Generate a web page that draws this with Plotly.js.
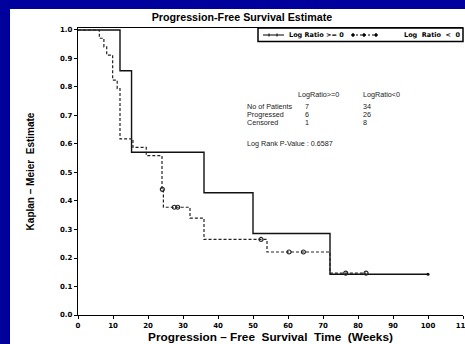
<!DOCTYPE html>
<html><head><meta charset="utf-8">
<script src="https://cdn.plot.ly/plotly-3.0.1.min.js"></script>
<style>
html,body{margin:0;padding:0;background:#00009c;width:465px;height:344px;overflow:hidden;position:relative}
#chart{position:absolute;left:10px;top:9px;width:475px;height:335px;background:#fff}
</style>
</head><body><div id="chart"></div>
<script>
// ---- data ----
const posName = 'Log Ratio >= 0';
const negName = 'Log Ratio < 0';
// Kaplan-Meier step points (time in weeks, survival); censored flag 1 = censored observation
const posTime = [0, 12, 15.3, 36, 50, 72, 100];
const posSurv = [1, 0.857, 0.571, 0.429, 0.286, 0.143, 0.143];
const posCens = [0, 0, 0, 0, 0, 0, 1];
const negTime = [0, 6.1, 7.4, 8.2, 9.9, 11.2, 12, 15.7, 19.5, 24, 24.1, 24.4, 27.5, 28.5, 32, 36, 52.3, 54, 60.3, 64.4, 72, 76.5, 82.3];
const negSurv = [1, 0.971, 0.941, 0.912, 0.824, 0.794, 0.618, 0.588, 0.559, 0.441, 0.441, 0.378, 0.378, 0.378, 0.340, 0.265, 0.265, 0.221, 0.221, 0.221, 0.147, 0.147, 0.147];
const negCens = [0, 0, 0, 0, 0, 0, 0, 0, 0, 0, 1, 0, 1, 1, 0, 0, 1, 0, 1, 1, 0, 1, 1];
// summary table
const groupHeaders = ['LogRatio>=0', 'LogRatio<0'];
const statLabels = ['No of Patients', 'Progressed', 'Censored'];
const posStats = [7, 6, 1];
const negStats = [34, 26, 8];
const pValue = '0.6587';
const xTicks = [0, 10, 20, 30, 40, 50, 60, 70, 80, 90, 100, 110];
const yTicks = [0, 0.1, 0.2, 0.3, 0.4, 0.5, 0.6, 0.7, 0.8, 0.9, 1.0];

// ---- layout helpers (absolute page pixels -> paper coords) ----
const DIVW = 475, DIVH = 335, OX = 10, OY = 9;
const PL = 78, PR = 463, PT = 28, PB = 315;
const px = x => (x - PL) / (PR - PL);
const py = y => (PB - y) / (PB - PT);

const pick = (arr, flags) => arr.filter((v, i) => flags[i]);

const traces = [
  {x: posTime, y: posSurv, mode: 'lines', line: {shape: 'hv', color: '#111', width: 1.4}, name: posName, showlegend: false, hoverinfo: 'skip'},
  {x: negTime, y: negSurv, mode: 'lines', line: {shape: 'hv', color: '#222', width: 1.2, dash: '3px,2px'}, name: negName, showlegend: false, hoverinfo: 'skip'},
  {x: pick(posTime, posCens), y: pick(posSurv, posCens), mode: 'markers', marker: {symbol: 'circle', size: 3, color: '#111'}, showlegend: false, hoverinfo: 'skip'},
  {x: pick(negTime, negCens), y: pick(negSurv, negCens), mode: 'markers', marker: {symbol: 'circle-open', size: 4, color: '#222', line: {width: 1.2}}, showlegend: false, hoverinfo: 'skip'}
];

const statFont = {family: 'Liberation Sans, Arial, sans-serif', size: 7.2, color: '#222'};
const legFont = {family: 'DejaVu Sans, sans-serif', size: 6.5, color: '#000', weight: 700};
const annotations = [];
function txt(text, x, y, font, anchor) {
  annotations.push({text: text, xref: 'paper', yref: 'paper', x: px(x), y: py(y), xanchor: anchor || 'left', yanchor: 'middle', showarrow: false, borderpad: 0, font: font});
}
// legend texts
txt(posName, 288, 35, legFont, 'left');
txt(negName.replace(/ /g, '&nbsp;&nbsp;'), 461, 35, legFont, 'right');
// summary table
txt(groupHeaders[0], 297, 95, statFont);
txt(groupHeaders[1], 362, 95, statFont);
const rowY = [107, 115, 123];
statLabels.forEach((lab, i) => {
  txt(lab, 246, rowY[i], statFont);
  txt(String(posStats[i]), 304, rowY[i], statFont);
  txt(String(negStats[i]), 362, rowY[i], statFont);
});
txt('Log Rank P-Value : ' + pValue, 246, 143, statFont);

const shapes = [
  {type: 'rect', xref: 'paper', yref: 'paper', x0: px(258), x1: px(463), y0: py(41.5), y1: py(28), line: {color: '#000', width: 1.5}, fillcolor: 'rgba(0,0,0,0)'},
  {type: 'line', xref: 'paper', yref: 'paper', x0: px(263), x1: px(284), y0: py(35), y1: py(35), line: {color: '#000', width: 1}},
  {type: 'line', xref: 'paper', yref: 'paper', x0: px(269), x1: px(269), y0: py(33.5), y1: py(36.5), line: {color: '#000', width: 1}},
  {type: 'line', xref: 'paper', yref: 'paper', x0: px(277), x1: px(277), y0: py(33.5), y1: py(36.5), line: {color: '#000', width: 1}},
  {type: 'line', xref: 'paper', yref: 'paper', x0: px(352), x1: px(377), y0: py(35), y1: py(35), line: {color: '#000', width: 1, dash: '2px,2px'}}
];
[353, 364, 376].forEach(cx => shapes.push({type: 'circle', xref: 'paper', yref: 'paper', x0: px(cx - 1.3), x1: px(cx + 1.3), y0: py(36.3), y1: py(33.7), line: {color: '#000', width: 1}, fillcolor: '#000'}));

const tickFont = {family: 'DejaVu Sans, sans-serif', size: 7, color: '#000', weight: 700};
const layout = {
  width: DIVW, height: DIVH,
  margin: {l: PL - OX, r: DIVW + OX - PR, t: PT - OY, b: DIVH + OY - PB},
  paper_bgcolor: '#fff', plot_bgcolor: '#fff',
  showlegend: false,
  title: {text: 'Progression-Free Survival Estimate', x: (242 - OX) / DIVW, xref: 'container', xanchor: 'center', y: 1 - (17 - OY) / DIVH, yref: 'container', yanchor: 'middle',
    font: {family: 'Liberation Sans, Arial, sans-serif', size: 10.7, color: '#000', weight: 700}},
  xaxis: {range: [0, 110], tickvals: xTicks, ticktext: xTicks.map(String), showgrid: false, zeroline: false,
    showline: true, linecolor: '#000', linewidth: 1.3, mirror: true, ticks: 'outside', ticklen: 3, tickwidth: 1, tickcolor: '#000',
    tickfont: tickFont,
    title: {text: 'Progression \u2013 Free&nbsp;&nbsp;Survival&nbsp;&nbsp;Time&nbsp;&nbsp;(Weeks)', standoff: 3,
      font: {family: 'Liberation Sans, Arial, sans-serif', size: 11.8, color: '#000', weight: 700}}},
  yaxis: {range: [0, 1 + 2 / 287], tickvals: yTicks, ticktext: yTicks.map(v => v.toFixed(1)), showgrid: false, zeroline: false,
    showline: true, linecolor: '#000', linewidth: 1.3, ticks: 'outside', ticklen: 3, tickwidth: 1, tickcolor: '#000',
    tickfont: tickFont,
    title: {text: 'Kaplan \u2013 Meier&nbsp;&nbsp;Estimate', standoff: 23,
      font: {family: 'Liberation Sans, Arial, sans-serif', size: 10, color: '#000', weight: 700}}},
  annotations: annotations,
  shapes: shapes
};
Plotly.newPlot('chart', traces, layout, {displayModeBar: false, staticPlot: true});
</script>
</body></html>
